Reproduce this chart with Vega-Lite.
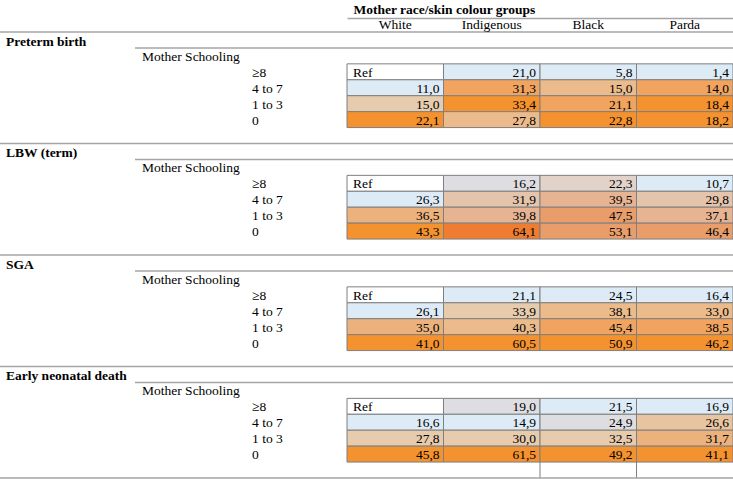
{
  "$schema": "https://vega.github.io/schema/vega-lite/v6.json",
  "width": 733,
  "height": 446,
  "autosize": {"type": "none"},
  "padding": {"top": 32, "left": 0, "right": 0, "bottom": 1},
  "background": "white",
  "config": {
    "view": {"stroke": null},
    "locale": {"number": {"decimal": ",", "thousands": ".", "grouping": [3], "currency": ["", ""]}},
    "text": {"font": "Liberation Serif", "fontSize": 13.5, "color": "#000000"}
  },
  "datasets": {
    "sections": [
      {"section": "Preterm birth"},
      {"section": "LBW (term)"},
      {"section": "SGA"},
      {"section": "Early neonatal death"}
    ],
    "marks": [
      {"group": "Black"},
      {"group": "Parda"}
    ],
    "cells": [
      {"section": "Preterm birth", "schooling": "≥8", "group": "White", "value": null, "note": "Ref", "shade": "ref"},
      {"section": "Preterm birth", "schooling": "≥8", "group": "Indigenous", "value": 21.0, "shade": "blue"},
      {"section": "Preterm birth", "schooling": "≥8", "group": "Black", "value": 5.8, "shade": "blue"},
      {"section": "Preterm birth", "schooling": "≥8", "group": "Parda", "value": 1.4, "shade": "blue"},
      {"section": "Preterm birth", "schooling": "4 to 7", "group": "White", "value": 11.0, "shade": "blue"},
      {"section": "Preterm birth", "schooling": "4 to 7", "group": "Indigenous", "value": 31.3, "shade": "amber"},
      {"section": "Preterm birth", "schooling": "4 to 7", "group": "Black", "value": 15.0, "shade": "tan"},
      {"section": "Preterm birth", "schooling": "4 to 7", "group": "Parda", "value": 14.0, "shade": "amber"},
      {"section": "Preterm birth", "schooling": "1 to 3", "group": "White", "value": 15.0, "shade": "sand"},
      {"section": "Preterm birth", "schooling": "1 to 3", "group": "Indigenous", "value": 33.4, "shade": "orange"},
      {"section": "Preterm birth", "schooling": "1 to 3", "group": "Black", "value": 21.1, "shade": "amber"},
      {"section": "Preterm birth", "schooling": "1 to 3", "group": "Parda", "value": 18.4, "shade": "orange"},
      {"section": "Preterm birth", "schooling": "0", "group": "White", "value": 22.1, "shade": "orange"},
      {"section": "Preterm birth", "schooling": "0", "group": "Indigenous", "value": 27.8, "shade": "tan"},
      {"section": "Preterm birth", "schooling": "0", "group": "Black", "value": 22.8, "shade": "orange"},
      {"section": "Preterm birth", "schooling": "0", "group": "Parda", "value": 18.2, "shade": "orange"},

      {"section": "LBW (term)", "schooling": "≥8", "group": "White", "value": null, "note": "Ref", "shade": "ref"},
      {"section": "LBW (term)", "schooling": "≥8", "group": "Indigenous", "value": 16.2, "shade": "gray"},
      {"section": "LBW (term)", "schooling": "≥8", "group": "Black", "value": 22.3, "shade": "rose"},
      {"section": "LBW (term)", "schooling": "≥8", "group": "Parda", "value": 10.7, "shade": "blue"},
      {"section": "LBW (term)", "schooling": "4 to 7", "group": "White", "value": 26.3, "shade": "blue"},
      {"section": "LBW (term)", "schooling": "4 to 7", "group": "Indigenous", "value": 31.9, "shade": "peach"},
      {"section": "LBW (term)", "schooling": "4 to 7", "group": "Black", "value": 39.5, "shade": "salmon"},
      {"section": "LBW (term)", "schooling": "4 to 7", "group": "Parda", "value": 29.8, "shade": "peach"},
      {"section": "LBW (term)", "schooling": "1 to 3", "group": "White", "value": 36.5, "shade": "tan2"},
      {"section": "LBW (term)", "schooling": "1 to 3", "group": "Indigenous", "value": 39.8, "shade": "salmon"},
      {"section": "LBW (term)", "schooling": "1 to 3", "group": "Black", "value": 47.5, "shade": "coral"},
      {"section": "LBW (term)", "schooling": "1 to 3", "group": "Parda", "value": 37.1, "shade": "salmon"},
      {"section": "LBW (term)", "schooling": "0", "group": "White", "value": 43.3, "shade": "orange"},
      {"section": "LBW (term)", "schooling": "0", "group": "Indigenous", "value": 64.1, "shade": "deep"},
      {"section": "LBW (term)", "schooling": "0", "group": "Black", "value": 53.1, "shade": "coral"},
      {"section": "LBW (term)", "schooling": "0", "group": "Parda", "value": 46.4, "shade": "coral"},

      {"section": "SGA", "schooling": "≥8", "group": "White", "value": null, "note": "Ref", "shade": "ref"},
      {"section": "SGA", "schooling": "≥8", "group": "Indigenous", "value": 21.1, "shade": "blue"},
      {"section": "SGA", "schooling": "≥8", "group": "Black", "value": 24.5, "shade": "blue"},
      {"section": "SGA", "schooling": "≥8", "group": "Parda", "value": 16.4, "shade": "blue"},
      {"section": "SGA", "schooling": "4 to 7", "group": "White", "value": 26.1, "shade": "blue"},
      {"section": "SGA", "schooling": "4 to 7", "group": "Indigenous", "value": 33.9, "shade": "sand"},
      {"section": "SGA", "schooling": "4 to 7", "group": "Black", "value": 38.1, "shade": "tan"},
      {"section": "SGA", "schooling": "4 to 7", "group": "Parda", "value": 33.0, "shade": "tan"},
      {"section": "SGA", "schooling": "1 to 3", "group": "White", "value": 35.0, "shade": "tan2"},
      {"section": "SGA", "schooling": "1 to 3", "group": "Indigenous", "value": 40.3, "shade": "tan"},
      {"section": "SGA", "schooling": "1 to 3", "group": "Black", "value": 45.4, "shade": "amber"},
      {"section": "SGA", "schooling": "1 to 3", "group": "Parda", "value": 38.5, "shade": "amber"},
      {"section": "SGA", "schooling": "0", "group": "White", "value": 41.0, "shade": "orange"},
      {"section": "SGA", "schooling": "0", "group": "Indigenous", "value": 60.5, "shade": "orange"},
      {"section": "SGA", "schooling": "0", "group": "Black", "value": 50.9, "shade": "orange"},
      {"section": "SGA", "schooling": "0", "group": "Parda", "value": 46.2, "shade": "orange"},

      {"section": "Early neonatal death", "schooling": "≥8", "group": "White", "value": null, "note": "Ref", "shade": "ref"},
      {"section": "Early neonatal death", "schooling": "≥8", "group": "Indigenous", "value": 19.0, "shade": "gray"},
      {"section": "Early neonatal death", "schooling": "≥8", "group": "Black", "value": 21.5, "shade": "blue"},
      {"section": "Early neonatal death", "schooling": "≥8", "group": "Parda", "value": 16.9, "shade": "blue"},
      {"section": "Early neonatal death", "schooling": "4 to 7", "group": "White", "value": 16.6, "shade": "blue"},
      {"section": "Early neonatal death", "schooling": "4 to 7", "group": "Indigenous", "value": 14.9, "shade": "blue"},
      {"section": "Early neonatal death", "schooling": "4 to 7", "group": "Black", "value": 24.9, "shade": "gray"},
      {"section": "Early neonatal death", "schooling": "4 to 7", "group": "Parda", "value": 26.6, "shade": "sand2"},
      {"section": "Early neonatal death", "schooling": "1 to 3", "group": "White", "value": 27.8, "shade": "sand"},
      {"section": "Early neonatal death", "schooling": "1 to 3", "group": "Indigenous", "value": 30.0, "shade": "sand"},
      {"section": "Early neonatal death", "schooling": "1 to 3", "group": "Black", "value": 32.5, "shade": "sand"},
      {"section": "Early neonatal death", "schooling": "1 to 3", "group": "Parda", "value": 31.7, "shade": "tan2"},
      {"section": "Early neonatal death", "schooling": "0", "group": "White", "value": 45.8, "shade": "orange"},
      {"section": "Early neonatal death", "schooling": "0", "group": "Indigenous", "value": 61.5, "shade": "orange"},
      {"section": "Early neonatal death", "schooling": "0", "group": "Black", "value": 49.2, "shade": "orange"},
      {"section": "Early neonatal death", "schooling": "0", "group": "Parda", "value": 41.1, "shade": "orange"}
    ]
  },
  "layer": [
    {
      "data": {"name": "cells"},
      "mark": {"type": "rect", "stroke": "#7f7f7f", "strokeWidth": 1},
      "encoding": {
        "x": {"field": "group", "type": "nominal",
          "scale": {"type": "band", "domain": ["White", "Indigenous", "Black", "Parda"], "range": [347, 733], "paddingInner": 0, "paddingOuter": 0},
          "axis": {"orient": "top", "offset": 14, "domain": true, "domainColor": "#a5a5a5", "domainWidth": 1.5, "ticks": false, "grid": false,
            "labelAngle": 0, "labelPadding": -6, "labelBaseline": "middle", "labelFont": "Liberation Serif", "labelFontSize": 13.5, "labelColor": "#000000",
            "title": "Mother race/skin colour groups", "titleFont": "Liberation Serif", "titleFontSize": 13.5, "titleFontWeight": "bold", "titleColor": "#000000",
            "titleAlign": "left", "titleBaseline": "middle", "titleAnchor": "start", "titleX": 353, "titleY": -9}},
        "y": {"field": "section", "type": "nominal", "scale": {"domain": ["Preterm birth", "LBW (term)", "SGA", "Early neonatal death"], "paddingInner": 0, "paddingOuter": 0}, "axis": null},
        "yOffset": {"field": "schooling", "type": "nominal", "scale": {"domain": ["title", "ms", "≥8", "4 to 7", "1 to 3", "0", "blank"], "paddingInner": 0, "paddingOuter": 0}},
        "color": {"field": "shade", "type": "nominal", "legend": null,
          "scale": {"domain": ["ref", "blue", "gray", "rose", "sand", "sand2", "peach", "salmon", "tan", "tan2", "amber", "coral", "orange", "deep"],
            "range": ["#ffffff", "#ddebf7", "#dedee2", "#e2d3ca", "#e7cbad", "#e8c4a0", "#e5c4ac", "#e6b492", "#ebbb8c", "#ecb27e", "#f0a45f", "#e99d6a", "#f4922f", "#ee7d31"]}}
      }
    },
    {
      "data": {"name": "cells"},
      "transform": [{"filter": "isValid(datum.value)"}],
      "mark": {"type": "text", "font": "Liberation Serif", "fontSize": 13.5, "align": "right", "baseline": "middle", "dx": -4, "dy": 1},
      "encoding": {
        "x": {"field": "group", "type": "nominal", "bandPosition": 1, "scale": {"type": "band", "domain": ["White", "Indigenous", "Black", "Parda"], "range": [347, 733], "paddingInner": 0, "paddingOuter": 0}, "axis": null},
        "y": {"field": "section", "type": "nominal", "scale": {"domain": ["Preterm birth", "LBW (term)", "SGA", "Early neonatal death"], "paddingInner": 0, "paddingOuter": 0}, "axis": null},
        "yOffset": {"field": "schooling", "type": "nominal", "scale": {"domain": ["title", "ms", "≥8", "4 to 7", "1 to 3", "0", "blank"], "paddingInner": 0, "paddingOuter": 0}},
        "text": {"field": "value", "type": "quantitative", "format": ".1f"}
      }
    },
    {
      "data": {"name": "cells"},
      "transform": [{"filter": "!isValid(datum.value)"}],
      "mark": {"type": "text", "font": "Liberation Serif", "fontSize": 13.5, "align": "left", "baseline": "middle", "dx": 6, "dy": 1},
      "encoding": {
        "x": {"field": "group", "type": "nominal", "bandPosition": 0, "scale": {"type": "band", "domain": ["White", "Indigenous", "Black", "Parda"], "range": [347, 733], "paddingInner": 0, "paddingOuter": 0}, "axis": null},
        "y": {"field": "section", "type": "nominal", "scale": {"domain": ["Preterm birth", "LBW (term)", "SGA", "Early neonatal death"], "paddingInner": 0, "paddingOuter": 0}, "axis": null},
        "yOffset": {"field": "schooling", "type": "nominal", "scale": {"domain": ["title", "ms", "≥8", "4 to 7", "1 to 3", "0", "blank"], "paddingInner": 0, "paddingOuter": 0}},
        "text": {"field": "note", "type": "nominal"}
      }
    },
    {
      "data": {"name": "marks"},
      "mark": {"type": "tick", "orient": "vertical", "size": 16, "thickness": 1, "color": "#7f7f7f", "opacity": 1},
      "encoding": {
        "x": {"field": "group", "type": "nominal", "bandPosition": 0, "scale": {"type": "band", "domain": ["White", "Indigenous", "Black", "Parda"], "range": [347, 733], "paddingInner": 0, "paddingOuter": 0}, "axis": null},
        "y": {"datum": "Early neonatal death", "type": "nominal", "scale": {"domain": ["Preterm birth", "LBW (term)", "SGA", "Early neonatal death"], "paddingInner": 0, "paddingOuter": 0}, "axis": null},
        "yOffset": {"datum": "blank", "type": "nominal", "scale": {"domain": ["title", "ms", "≥8", "4 to 7", "1 to 3", "0", "blank"], "paddingInner": 0, "paddingOuter": 0}}
      }
    },
    {
      "data": {"name": "sections"},
      "mark": {"type": "text", "font": "Liberation Serif", "fontSize": 13.5, "align": "left", "baseline": "middle", "dx": 6, "dy": 2, "fontWeight": "bold"},
      "encoding": {
        "x": {"datum": 0, "type": "quantitative", "scale": {"domain": [0, 1, 2, 3, 4], "range": [0, 135, 245, 347, 733], "nice": false, "zero": false}, "axis": null},
        "y": {"field": "section", "type": "nominal", "scale": {"domain": ["Preterm birth", "LBW (term)", "SGA", "Early neonatal death"], "paddingInner": 0, "paddingOuter": 0}, "axis": null},
        "yOffset": {"datum": "title", "type": "nominal", "scale": {"domain": ["title", "ms", "≥8", "4 to 7", "1 to 3", "0", "blank"], "paddingInner": 0, "paddingOuter": 0}},
        "text": {"field": "section", "type": "nominal"}
      }
    },
    {
      "data": {"name": "sections"},
      "mark": {"type": "text", "font": "Liberation Serif", "fontSize": 13.5, "align": "left", "baseline": "middle", "dx": 7, "dy": 1, "text": "Mother Schooling"},
      "encoding": {
        "x": {"datum": 1, "type": "quantitative", "scale": {"domain": [0, 1, 2, 3, 4], "range": [0, 135, 245, 347, 733], "nice": false, "zero": false}, "axis": null},
        "y": {"field": "section", "type": "nominal", "scale": {"domain": ["Preterm birth", "LBW (term)", "SGA", "Early neonatal death"], "paddingInner": 0, "paddingOuter": 0}, "axis": null},
        "yOffset": {"datum": "ms", "type": "nominal", "scale": {"domain": ["title", "ms", "≥8", "4 to 7", "1 to 3", "0", "blank"], "paddingInner": 0, "paddingOuter": 0}}
      }
    },
    {
      "data": {"name": "cells"},
      "transform": [{"filter": "datum.group === 'White'"}],
      "mark": {"type": "text", "font": "Liberation Serif", "fontSize": 13.5, "align": "left", "baseline": "middle", "dx": 7, "dy": 1},
      "encoding": {
        "x": {"datum": 2, "type": "quantitative", "scale": {"domain": [0, 1, 2, 3, 4], "range": [0, 135, 245, 347, 733], "nice": false, "zero": false}, "axis": null},
        "y": {"field": "section", "type": "nominal", "scale": {"domain": ["Preterm birth", "LBW (term)", "SGA", "Early neonatal death"], "paddingInner": 0, "paddingOuter": 0}, "axis": null},
        "yOffset": {"field": "schooling", "type": "nominal", "scale": {"domain": ["title", "ms", "≥8", "4 to 7", "1 to 3", "0", "blank"], "paddingInner": 0, "paddingOuter": 0}},
        "text": {"field": "schooling", "type": "nominal"}
      }
    },
    {
      "data": {"name": "sections"},
      "mark": {"type": "rule", "color": "#a5a5a5", "strokeWidth": 1.5},
      "encoding": {
        "x": {"datum": 1, "type": "quantitative", "scale": {"domain": [0, 1, 2, 3, 4], "range": [0, 135, 245, 347, 733], "nice": false, "zero": false}, "axis": null},
        "x2": {"datum": 4},
        "y": {"field": "section", "type": "nominal", "bandPosition": 0.142857, "scale": {"domain": ["Preterm birth", "LBW (term)", "SGA", "Early neonatal death"], "paddingInner": 0, "paddingOuter": 0}, "axis": null}
      }
    },
    {
      "data": {"name": "sections"},
      "mark": {"type": "rule", "color": "#a5a5a5", "strokeWidth": 1.5},
      "encoding": {
        "y": {"field": "section", "type": "nominal", "bandPosition": 0, "scale": {"domain": ["Preterm birth", "LBW (term)", "SGA", "Early neonatal death"], "paddingInner": 0, "paddingOuter": 0}, "axis": null}
      }
    },
    {
      "data": {"name": "sections"},
      "transform": [{"filter": "datum.section === 'Early neonatal death'"}],
      "mark": {"type": "rule", "color": "#a5a5a5", "strokeWidth": 1.5},
      "encoding": {
        "y": {"field": "section", "type": "nominal", "bandPosition": 1, "scale": {"domain": ["Preterm birth", "LBW (term)", "SGA", "Early neonatal death"], "paddingInner": 0, "paddingOuter": 0}, "axis": null}
      }
    }
  ],
  "resolve": {"scale": {"x": "independent"}}
}
